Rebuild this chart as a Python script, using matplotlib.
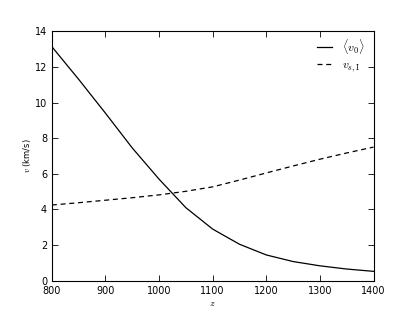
import matplotlib
matplotlib.use("Agg")
import matplotlib.pyplot as plt

# redshift grid
z = [800, 850, 900, 950, 1000, 1050, 1100, 1150, 1200, 1250, 1300, 1350, 1400]
# mean velocity <v0> in km/s
v0 = [13.13, 11.3, 9.4, 7.45, 5.7, 4.1, 2.9, 2.05, 1.45, 1.08, 0.84, 0.66, 0.53]
# v_s,I in km/s
vsI = [4.25, 4.38, 4.52, 4.66, 4.82, 5.02, 5.27, 5.65, 6.05, 6.44, 6.82, 7.17, 7.5]

plt.rcParams['mathtext.fontset'] = 'cm'
plt.rcParams['xtick.direction'] = 'in'
plt.rcParams['ytick.direction'] = 'in'

fig = plt.figure(figsize=(4.15, 3.12), dpi=100)
ax = fig.add_axes([0.125, 0.1, 0.775, 0.8])

ax.plot(z, v0, color='black', lw=0.9, label=r'$\langle v_0\rangle$')
ax.plot(z, vsI, color='black', lw=0.9, ls='--', dashes=(4, 3), label=r'$v_{s,\mathrm{I}}$')

ax.set_xlim(800, 1400)
ax.set_ylim(0, 14)
ax.set_xticks(range(800, 1401, 100))
ax.set_yticks(range(0, 15, 2))
ax.tick_params(labelsize=7, top=True, right=True, length=4, width=0.6)
for s in ax.spines.values():
    s.set_linewidth(0.8)

ax.set_xlabel(r'$z$', fontsize=7, labelpad=2)
ax.set_ylabel(r'$v$ (km/s)', fontsize=6, labelpad=1)

ax.legend(loc='upper right', bbox_to_anchor=(0.99, 1.0), frameon=False, fontsize=8.5,
          handlelength=1.3, borderaxespad=0.3, borderpad=0.2, labelspacing=0.15,
          handletextpad=0.8)

fig.savefig('out.png', dpi=100)
